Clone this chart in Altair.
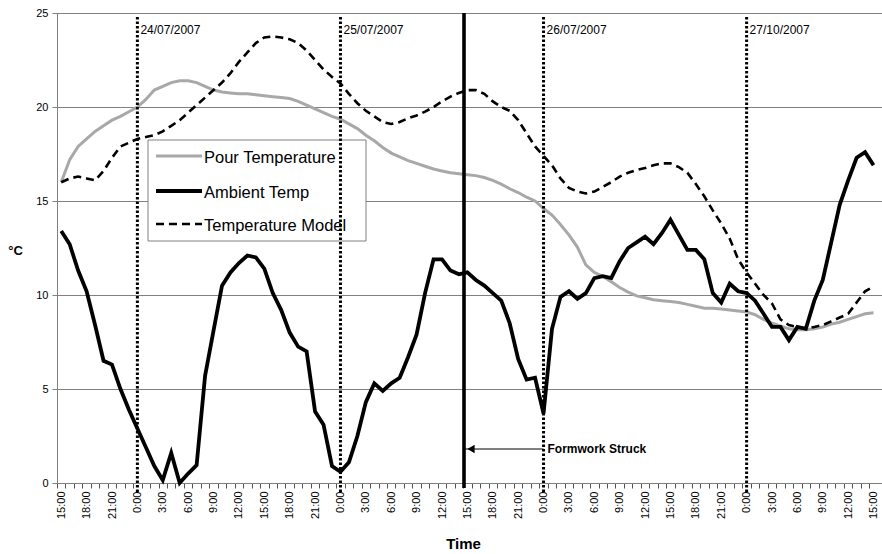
import altair as alt
import pandas as pd

# ---- data (hourly, 15:00 23/07/2007 -> 15:00 27/07/2007) ----
hours = list(range(97))

pour = [16.0, 17.2, 17.9, 18.3, 18.7, 19.0, 19.3, 19.5, 19.75, 20.0,
        20.4, 20.9, 21.1, 21.3, 21.4, 21.4, 21.3, 21.1, 20.9, 20.8,
        20.75, 20.7, 20.7, 20.65, 20.6, 20.55, 20.5, 20.45, 20.3, 20.1,
        19.9, 19.7, 19.5, 19.35, 19.1, 18.85, 18.5, 18.2, 17.85, 17.55,
        17.35, 17.15, 17.0, 16.85, 16.7, 16.6, 16.5, 16.45, 16.4, 16.35,
        16.25, 16.1, 15.9, 15.65, 15.45, 15.2, 15.0, 14.6, 14.25, 13.75,
        13.2, 12.55, 11.6, 11.2, 11.0, 10.7, 10.4, 10.15, 9.95, 9.85,
        9.75, 9.7, 9.65, 9.6, 9.5, 9.4, 9.3, 9.3, 9.25, 9.2,
        9.15, 9.1, 8.95, 8.7, 8.5, 8.35, 8.2, 8.15, 8.15, 8.2,
        8.3, 8.45, 8.55, 8.7, 8.85, 9.0, 9.05]

ambient = [13.4, 12.7, 11.3, 10.2, 8.4, 6.5, 6.3, 5.0, 3.9, 2.9,
           1.9, 0.9, 0.15, 1.6, 0.0, 0.5, 0.95, 5.7, 8.1, 10.5,
           11.2, 11.7, 12.1, 12.0, 11.4, 10.1, 9.2, 8.0, 7.25, 7.0,
           3.8, 3.1, 0.9, 0.6, 1.1, 2.5, 4.3, 5.3, 4.9, 5.3,
           5.6, 6.7, 7.9, 10.1, 11.9, 11.9, 11.3, 11.1, 11.2, 10.8,
           10.5, 10.1, 9.7, 8.5, 6.6, 5.5, 5.6, 3.7, 8.2, 9.9,
           10.2, 9.8, 10.1, 10.9, 11.0, 10.9, 11.8, 12.5, 12.8, 13.1,
           12.7, 13.3, 14.0, 13.2, 12.4, 12.4, 11.9, 10.1, 9.6, 10.6,
           10.2, 10.1, 9.7, 9.0, 8.3, 8.3, 7.6, 8.3, 8.2, 9.7,
           10.8, 12.8, 14.8, 16.1, 17.3, 17.6, 16.9]

model = [16.0, 16.2, 16.3, 16.2, 16.1, 16.6, 17.3, 17.9, 18.1, 18.3,
         18.4, 18.5, 18.7, 19.0, 19.3, 19.7, 20.1, 20.5, 20.9, 21.3,
         21.8, 22.4, 22.9, 23.4, 23.7, 23.75, 23.7, 23.6, 23.4, 23.0,
         22.5, 22.0, 21.6, 21.25, 20.7, 20.2, 19.8, 19.5, 19.2, 19.1,
         19.2, 19.4, 19.55, 19.75, 20.0, 20.3, 20.55, 20.75, 20.9, 20.9,
         20.7, 20.3, 20.0, 19.8, 19.3, 18.6, 17.9, 17.4, 16.9, 16.2,
         15.7, 15.5, 15.4, 15.5, 15.75, 16.0, 16.3, 16.5, 16.65, 16.75,
         16.9, 17.0, 17.0, 16.8, 16.5, 15.9, 15.25, 14.5, 13.8, 13.0,
         11.9, 11.2, 10.6, 10.0, 9.55, 8.7, 8.4, 8.3, 8.2, 8.3,
         8.4, 8.6, 8.8, 9.0, 9.6, 10.2, 10.45]

series_names = ["Pour Temperature", "Ambient Temp", "Temperature Model"]
day_hours = [9, 33, 57, 81]
day_labels = ["24/07/2007", "25/07/2007", "26/07/2007", "27/10/2007"]
struck_hour = [47.6]
struck_label = "Formwork Struck"
y_ticks = [0, 5, 10, 15, 20, 25]

FONT = "Liberation Sans"
W, H = 825, 470

df_pour = pd.DataFrame({"hour": hours, "value": pour})
df_amb = pd.DataFrame({"hour": hours, "value": ambient})
df_mod = pd.DataFrame({"hour": hours, "value": model})
df_days = pd.DataFrame({"hour": day_hours, "label": day_labels})
df_struck = pd.DataFrame({"hour": struck_hour, "hour2": [day_hours[2]], "label": [struck_label]})

xscale = alt.Scale(domain=[-0.5, 97], nice=False, zero=False)
yscale = alt.Scale(domain=[0, 25], nice=False, zero=True)

xaxis = alt.Axis(
    values=hours,
    labelExpr="datum.value % 3 == 0 ? ((15 + datum.value) % 24) + ':00' : ''",
    labelAngle=270, labelAlign="right", labelBaseline="middle",
    labelOverlap=False, labelFlush=False,
    tickOffset=-4.24, labelOffset=4.24,
    tickSize=5, tickColor="#555555", domainColor="#808080",
    labelFont=FONT, labelFontSize=11, labelColor="black", labelPadding=3,
    grid=False,
    title="Time", titleFont=FONT, titleFontSize=15, titleFontWeight="bold",
    titleColor="black", titleX=406, titleY=60, titleAlign="center", titleBaseline="middle",
)
yaxis = alt.Axis(
    values=y_ticks, grid=True, gridColor="#808080", gridWidth=1,
    domainColor="#808080", tickColor="#808080", tickSize=5,
    labelFont=FONT, labelFontSize=11, labelColor="black", labelPadding=4,
    title="°C", titleAngle=0, titleX=-42, titleY=237, titleAlign="center",
    titleBaseline="middle", titleFont=FONT, titleFontSize=13, titleFontWeight="bold",
    titleColor="black",
)

X = alt.X("hour:Q", scale=xscale, axis=xaxis)
Y = alt.Y("value:Q", scale=yscale, axis=yaxis)

pour_line = alt.Chart(df_pour).mark_line(color="#a8a8a8", strokeWidth=3).encode(x=X, y=Y)
model_line = alt.Chart(df_mod).mark_line(color="black", strokeWidth=2.6, strokeDash=[8, 5]).encode(x=X, y=Y)
amb_line = alt.Chart(df_amb).mark_line(color="black", strokeWidth=3.8).encode(x=X, y=Y)

day_rules = alt.Chart(df_days).mark_rule(color="black", strokeWidth=3, strokeDash=[2.5, 2],
                                         strokeCap="butt").encode(
    x=X, y=alt.value(4), y2=alt.value(H + 9))
day_text = alt.Chart(df_days).mark_text(align="left", baseline="middle", dx=3, font=FONT,
                                        fontSize=12, color="black").encode(
    x=X, y=alt.value(17), text="label:N")

struck_rule = alt.Chart(df_struck).mark_rule(color="black", strokeWidth=3.6).encode(
    x=X, y=alt.value(0), y2=alt.value(H + 5))
arrow_rule = alt.Chart(df_struck).mark_rule(color="black", strokeWidth=1).encode(
    x=X, x2="hour2:Q", y=alt.value(436))
arrow_head = alt.Chart(df_struck).mark_point(shape="triangle-left", filled=True, color="black",
                                             size=70, opacity=1, xOffset=7).encode(
    x=X, y=alt.value(436))
struck_text = alt.Chart(df_struck).mark_text(align="left", baseline="middle", dx=4, font=FONT,
                                             fontSize=12, fontWeight="bold", color="black").encode(
    x=alt.X("hour2:Q", scale=xscale, axis=xaxis), y=alt.value(436), text="label:N")

# ---- legend box ----
leg_box = alt.Chart(pd.DataFrame({"k": [0]})).mark_rect(fill="white", stroke="#808080", strokeWidth=1).encode(
    x=alt.value(91), x2=alt.value(309), y=alt.value(127), y2=alt.value(228))
leg_styles = [
    dict(color="#a8a8a8", strokeWidth=3),
    dict(color="black", strokeWidth=3.8),
    dict(color="black", strokeWidth=2.6, strokeDash=[8, 5]),
]
leg_rows = [144, 179, 212]
legend_layers = [leg_box]
for name, style, yy in zip(series_names, leg_styles, leg_rows):
    d = pd.DataFrame({"name": [name]})
    legend_layers.append(alt.Chart(d).mark_rule(**style).encode(
        x=alt.value(99), x2=alt.value(145), y=alt.value(yy - 1)))
    legend_layers.append(alt.Chart(d).mark_text(align="left", baseline="middle", font=FONT,
                                                fontSize=16.5, color="black").encode(
        x=alt.value(147), y=alt.value(yy + 1), text="name:N"))

chart = alt.layer(
    pour_line, model_line, *legend_layers, day_rules, day_text, struck_rule, arrow_rule,
    arrow_head, struck_text, amb_line
).properties(
    width=W, height=H,
    autosize=alt.AutoSizeParams(type="none"),
    padding={"left": 57, "top": 13, "right": 0, "bottom": 71},
    background="white",
).configure_view(stroke=None)

chart.save("out.html", embed_options={"renderer": "svg", "actions": False})
